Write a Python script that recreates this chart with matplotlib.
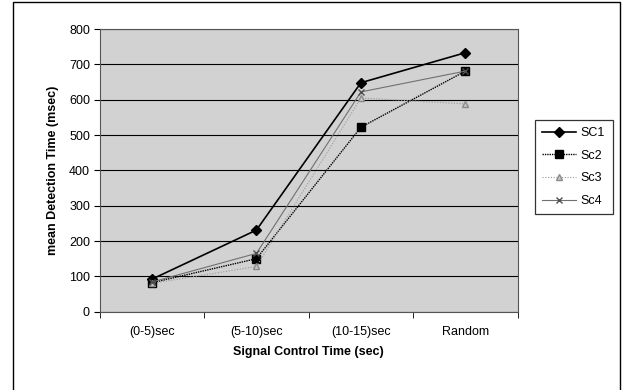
import numpy as np
import matplotlib
matplotlib.use("Agg")
import matplotlib.pyplot as plt
from matplotlib.patches import Rectangle

plt.rcParams['font.family'] = ['Liberation Sans', 'DejaVu Sans']

# mean detection time per signal control interval
categories = ['(0-5)sec', '(5-10)sec', '(10-15)sec', 'Random']
sc1 = [92, 231, 648, 733]
sc2 = [82, 150, 522, 681]
sc3 = [80, 128, 605, 588]
sc4 = [84, 165, 622, 681]
yticks = [0, 100, 200, 300, 400, 500, 600, 700, 800]

fig = plt.figure(figsize=(6.29, 3.9), dpi=100)
ax = fig.add_axes([0.1585, 0.2008, 0.6645, 0.7248])

# outer chart frame (open at the bottom)
fig.patches.append(Rectangle((13 / 629, -0.1), 607 / 629, 1.1 - 2 / 390,
                             transform=fig.transFigure, fill=False,
                             edgecolor='black', linewidth=1.0))

ax.set_facecolor('#d2d2d2')
x = np.arange(len(categories))

ax.plot(x, sc1, color='black', linewidth=1.2, marker='D', markersize=5,
        label='SC1')
ax.plot(x, sc2, color='black', linewidth=1.0, linestyle=(0, (1, 0.7)),
        marker='s', markersize=5.5, label='Sc2')
ax.plot(x, sc3, color='#9a9a9a', linewidth=0.8, linestyle=(0, (1, 1.5)),
        marker='^', markersize=5, markerfacecolor='#c8c8c8',
        markeredgecolor='#8a8a8a', label='Sc3')
ax.plot(x, sc4, color='#707070', linewidth=0.8, marker='x', markersize=5,
        markeredgecolor='#505050', label='Sc4')

ax.set_xlim(-0.5, len(categories) - 0.5)
ax.set_ylim(0, 800)
ax.set_yticks(yticks)
ax.set_xticks(x)
ax.set_xticklabels(categories)
ax.set_xticks(np.arange(len(categories) + 1) - 0.5, minor=True)
ax.tick_params(axis='x', which='major', length=0, pad=10, labelsize=9)
ax.tick_params(axis='x', which='minor', length=4, direction='out')
ax.tick_params(axis='y', length=4, direction='out', labelsize=9, pad=3)
ax.yaxis.grid(True, color='black', linewidth=0.8)
ax.set_axisbelow(True)
for s in ax.spines.values():
    s.set_color('#555555')
    s.set_linewidth(0.8)

ax.set_xlabel('Signal Control Time (sec)', fontsize=9, fontweight='bold',
              labelpad=6)
ax.set_ylabel('mean Detection Time (msec)', fontsize=9, fontweight='bold',
              labelpad=7)

leg = ax.legend(loc='upper left', bbox_to_anchor=(532 / 629, 273 / 390),
                bbox_transform=fig.transFigure, fontsize=9, frameon=True,
                fancybox=False, edgecolor='black', handlelength=2.7,
                borderpad=0.6, labelspacing=0.85, handletextpad=0.4,
                borderaxespad=0.2)
leg.get_frame().set_linewidth(0.9)

fig.savefig('out.png', dpi=100)
